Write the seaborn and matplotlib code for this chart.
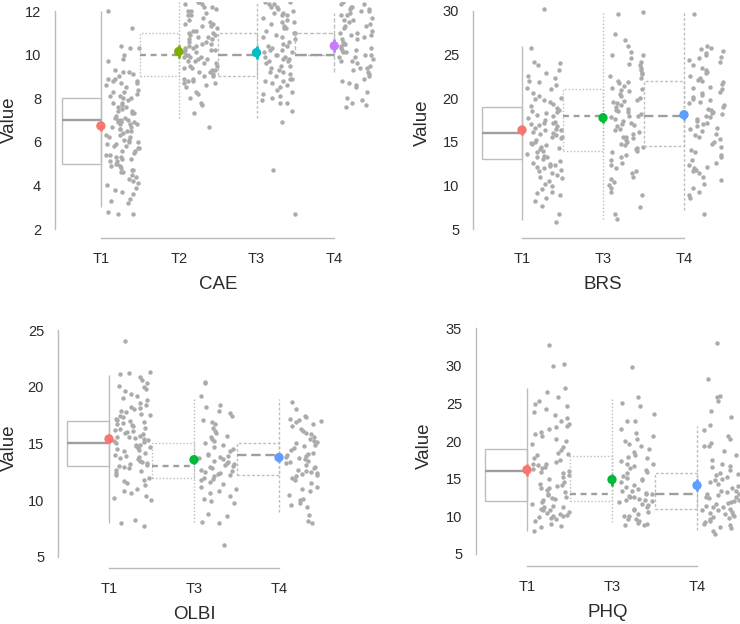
import matplotlib.pyplot as plt
import numpy as np
import pandas as pd
import seaborn as sns
from matplotlib.patches import Rectangle
from matplotlib.transforms import Affine2D

# ---- data ----
CAE_GROUPS = ["T1", "T2", "T3", "T4"]
CAE_T1 = [12.0, 11.2, 10.4, 10.3, 10.3, 10.0, 9.8, 9.7, 9.3, 9.2, 9.2, 9.1, 9.0, 8.9, 8.9, 8.8, 8.8, 8.7,
          8.7, 8.6, 8.5, 8.4, 8.3, 8.3, 8.2, 8.1, 8.0, 8.0, 7.9, 7.8, 7.8, 7.7, 7.6, 7.5, 7.4, 7.3, 7.3, 7.2,
          7.1, 7.1, 7.0, 7.0, 7.0, 6.9, 6.9, 6.8, 6.8, 6.8, 6.7, 6.7, 6.6, 6.6, 6.5, 6.4, 6.3, 6.3, 6.2, 6.2,
          6.1, 6.1, 6.0, 6.0, 5.9, 5.9, 5.8, 5.8, 5.7, 5.7, 5.6, 5.6, 5.5, 5.4, 5.3, 5.3, 5.2, 5.2, 5.1, 5.1,
          5.0, 5.0, 4.9, 4.9, 4.8, 4.7, 4.7, 4.6, 4.6, 4.5, 4.4, 4.3, 4.2, 4.1, 4.0, 3.9, 3.8, 3.7, 3.6, 3.4,
          3.3, 3.2, 2.8, 2.7, 2.7, 8.1, 7.6, 6.5, 6.9, 7.4, 5.4]
CAE_T2 = [12.4, 12.4, 12.3, 12.3, 12.2, 12.2, 12.1, 12.0, 12.0, 11.9, 11.8, 11.8, 11.7, 11.6, 11.5, 11.4,
          11.4, 11.3, 11.3, 11.2, 11.1, 11.0, 11.0, 10.9, 10.9, 10.8, 10.8, 10.7, 10.7, 10.6, 10.5, 10.5,
          10.4, 10.3, 10.3, 10.2, 10.2, 10.1, 10.1, 10.0, 10.0, 9.9, 9.9, 9.8, 9.8, 9.7, 9.7, 9.6, 9.6, 9.5,
          9.4, 9.4, 9.3, 9.3, 9.2, 9.2, 9.1, 9.0, 9.0, 8.9, 8.9, 8.8, 8.8, 8.7, 8.7, 8.6, 8.5, 8.3, 8.2, 8.0,
          7.8, 7.7, 7.3, 6.7, 10.6, 9.9, 10.4, 11.1, 9.5, 10.2]
CAE_T3 = [12.4, 12.4, 12.3, 12.3, 12.2, 12.2, 12.1, 12.0, 11.9, 11.9, 11.8, 11.8, 11.7, 11.6, 11.5, 11.5,
          11.4, 11.3, 11.2, 11.2, 11.1, 11.0, 11.0, 10.9, 10.8, 10.8, 10.7, 10.6, 10.5, 10.4, 10.4, 10.3,
          10.2, 10.2, 10.1, 10.1, 10.0, 10.0, 9.9, 9.9, 9.8, 9.8, 9.7, 9.7, 9.6, 9.5, 9.5, 9.4, 9.3, 9.2,
          9.2, 9.1, 9.0, 8.9, 8.9, 8.8, 8.8, 8.7, 8.6, 8.5, 8.4, 8.3, 8.2, 8.1, 8.0, 7.9, 7.8, 7.8, 7.4, 6.9,
          4.7, 2.7]
CAE_T4 = [12.4, 12.3, 12.3, 12.2, 12.2, 12.1, 12.1, 12.0, 12.0, 11.9, 11.8, 11.8, 11.7, 11.6, 11.6, 11.5,
          11.4, 11.3, 11.3, 11.2, 11.1, 11.0, 11.0, 10.9, 10.9, 10.8, 10.7, 10.7, 10.6, 10.5, 10.5, 10.4,
          10.3, 10.3, 10.2, 10.2, 10.1, 10.1, 10.0, 10.0, 9.9, 9.9, 9.8, 9.7, 9.7, 9.6, 9.5, 9.4, 9.4, 9.3,
          9.2, 9.1, 9.0, 8.9, 8.8, 8.7, 8.6, 8.5, 8.3, 8.0, 7.9, 7.8, 7.7, 7.6]
CAE_Q1 = [5, 9, 9, 10]
CAE_MED = [7, 10, 10, 10]
CAE_Q3 = [8, 11, 11, 11]
CAE_LO = [3, 7.1, 7.1, 9.2]
CAE_HI = [12, 12.4, 12.4, 11.9]
CAE_MEAN = [6.73, 10.14, 10.09, 10.4]
CAE_CI = [0.22, 0.3, 0.3, 0.3]

THREE_GROUPS = ["T1", "T3", "T4"]
BRS_T1 = [30.2, 25.7, 24.2, 24.0, 23.8, 23.2, 22.9, 22.6, 22.3, 22.0, 21.5, 21.2, 21.0, 20.6, 20.3, 20.0,
          19.8, 19.6, 19.3, 19.1, 18.9, 18.7, 18.5, 18.3, 18.1, 17.9, 17.7, 17.5, 17.3, 17.1, 17.0, 16.8,
          16.6, 16.5, 16.3, 16.1, 16.0, 15.8, 15.6, 15.4, 15.2, 15.0, 14.8, 14.6, 14.4, 14.2, 14.0, 13.8,
          13.6, 13.4, 13.2, 13.0, 12.8, 12.6, 12.4, 12.2, 12.1, 12.0, 11.8, 11.6, 11.4, 11.2, 11.0, 10.8,
          10.5, 10.2, 9.9, 9.6, 9.3, 9.1, 8.9, 8.6, 8.2, 7.6, 6.7, 5.8, 17.2, 16.9, 15.9, 15.5, 14.9, 14.3,
          18.4, 19.9, 21.8, 13.3, 12.3, 16.4]
BRS_T3 = [29.9, 29.6, 27.4, 26.7, 26.0, 25.3, 25.0, 24.6, 24.1, 23.8, 23.5, 23.2, 22.9, 22.6, 22.3, 22.0,
          21.7, 21.4, 21.1, 20.8, 20.5, 20.3, 20.0, 19.8, 19.6, 19.4, 19.2, 19.0, 18.8, 18.6, 18.4, 18.2,
          18.0, 17.8, 17.6, 17.4, 17.2, 17.0, 16.8, 16.5, 16.3, 16.1, 15.9, 15.6, 15.4, 15.2, 15.0, 14.8,
          14.6, 14.4, 14.2, 14.0, 13.8, 13.5, 13.2, 12.9, 12.6, 12.3, 12.0, 11.7, 11.4, 11.0, 10.7, 10.4,
          10.0, 9.7, 9.3, 8.9, 7.5, 6.7, 6.2, 22.8, 21.9, 20.9, 19.7, 18.5, 17.9, 16.9, 15.5, 14.3, 21.2,
          23.9, 24.9]
BRS_T4 = [29.7, 26.0, 25.8, 25.6, 25.4, 25.2, 25.0, 24.7, 24.4, 24.1, 23.8, 23.5, 23.2, 22.9, 22.6, 22.3,
          22.0, 21.8, 21.6, 21.3, 21.0, 20.7, 20.4, 20.1, 19.8, 19.6, 19.4, 19.2, 19.0, 18.8, 18.6, 18.4,
          18.2, 18.0, 17.8, 17.6, 17.4, 17.1, 16.8, 16.5, 16.2, 15.9, 15.6, 15.3, 15.0, 14.7, 14.4, 14.1,
          13.8, 13.5, 13.2, 12.9, 12.6, 12.3, 12.0, 11.7, 11.4, 11.0, 10.6, 10.2, 9.7, 9.3, 8.9, 8.6, 6.7,
          23.0, 22.1, 20.6, 19.9, 18.3, 17.0, 15.8, 12.1, 11.8, 24.6, 21.2, 16.6]
BRS_Q1 = [13, 14, 14.5]
BRS_MED = [16, 18, 18]
BRS_Q3 = [19, 21, 22]
BRS_LO = [6, 6.2, 7.2]
BRS_HI = [26, 30, 30]
BRS_MEAN = [16.35, 17.75, 18.1]
BRS_CI = [0.6, 0.6, 0.6]

OLBI_T1 = [24.0, 21.3, 21.2, 21.1, 20.9, 20.6, 20.3, 20.1, 20.0, 19.8, 19.6, 19.4, 19.2, 19.0, 18.8, 18.6,
           18.4, 18.2, 18.0, 17.9, 17.8, 17.6, 17.5, 17.4, 17.2, 17.1, 17.0, 16.9, 16.8, 16.6, 16.5, 16.4,
           16.3, 16.2, 16.1, 16.0, 15.9, 15.8, 15.7, 15.6, 15.5, 15.4, 15.3, 15.2, 15.1, 15.0, 14.9, 14.8,
           14.7, 14.6, 14.5, 14.4, 14.3, 14.2, 14.0, 13.9, 13.8, 13.7, 13.6, 13.5, 13.4, 13.3, 13.2, 13.0,
           12.9, 12.8, 12.7, 12.6, 12.4, 12.2, 12.0, 11.8, 11.7, 11.5, 11.3, 11.0, 10.8, 10.6, 10.4, 10.2,
           10.0, 8.3, 8.0, 7.7, 16.7, 15.6, 14.9, 17.3, 13.1, 18.1]
OLBI_T3 = [20.4, 20.3, 19.2, 18.4, 18.2, 17.9, 17.7, 17.4, 17.1, 16.9, 16.7, 16.4, 16.1, 15.9, 15.7, 15.6,
           15.4, 15.2, 15.0, 14.9, 14.7, 14.5, 14.3, 14.1, 14.0, 13.9, 13.8, 13.7, 13.6, 13.5, 13.4, 13.3,
           13.2, 13.1, 13.0, 12.9, 12.8, 12.7, 12.6, 12.5, 12.4, 12.3, 12.2, 12.1, 12.0, 11.9, 11.8, 11.6,
           11.4, 11.2, 11.0, 10.8, 10.6, 10.4, 10.1, 9.9, 9.8, 8.8, 8.6, 8.1, 8.0, 6.1]
OLBI_T4 = [18.7, 18.0, 17.4, 17.3, 17.2, 17.1, 17.0, 16.9, 16.7, 16.5, 16.3, 16.1, 15.9, 15.8, 15.6, 15.4,
           15.2, 15.1, 15.0, 14.9, 14.8, 14.6, 14.4, 14.2, 14.1, 14.0, 13.9, 13.8, 13.7, 13.6, 13.5, 13.4,
           13.3, 13.1, 12.9, 12.8, 12.7, 12.6, 12.5, 12.4, 12.3, 12.2, 12.1, 12.0, 11.8, 11.5, 11.2, 11.0,
           10.8, 10.5, 10.1, 10.0, 9.8, 9.6, 9.4, 8.7, 8.2, 8.0]
OLBI_Q1 = [13, 12, 12.25]
OLBI_MED = [15, 13, 14]
OLBI_Q3 = [17, 15, 15]
OLBI_LO = [8, 8.1, 9]
OLBI_HI = [21, 18.9, 18.9]
OLBI_MEAN = [15.4, 13.57, 13.77]
OLBI_CI = [0.4, 0.4, 0.4]

PHQ_T1 = [32.8, 30.2, 29.9, 27.0, 26.5, 25.9, 25.3, 24.9, 24.6, 24.2, 23.8, 23.4, 23.0, 22.6, 22.3, 22.0,
          21.6, 21.2, 20.9, 20.6, 20.3, 20.0, 19.6, 19.2, 18.8, 18.4, 18.1, 17.8, 17.5, 17.2, 16.9, 16.6,
          16.3, 16.0, 15.8, 15.5, 15.2, 14.9, 14.6, 14.3, 14.0, 13.8, 13.5, 13.2, 12.9, 12.6, 12.3, 12.1,
          11.9, 11.7, 11.4, 11.2, 11.0, 10.8, 10.6, 10.4, 10.2, 10.0, 9.8, 9.6, 9.4, 9.0, 8.7, 8.6, 8.0,
          17.0, 16.8, 15.9, 14.1, 13.7, 12.4, 11.3, 10.9, 10.1, 10.3, 9.9, 12.8, 21.9, 18.3, 16.4]
PHQ_T3 = [29.8, 25.8, 25.0, 24.6, 23.6, 22.7, 22.6, 21.6, 21.0, 20.6, 20.3, 20.0, 19.6, 19.3, 18.9, 18.6,
          18.1, 17.7, 17.4, 17.0, 16.7, 16.4, 16.1, 15.8, 15.4, 15.1, 14.8, 14.5, 14.2, 13.9, 13.6, 13.3,
          13.1, 12.9, 12.7, 12.5, 12.3, 12.1, 11.9, 11.7, 11.5, 11.2, 10.9, 10.6, 10.3, 10.0, 9.7, 9.4, 9.1,
          9.0, 8.9, 8.8, 13.4, 13.0, 12.6, 12.2, 12.0, 11.0, 10.1, 9.6, 17.9, 16.9, 14.9, 15.9]
PHQ_T4 = [33.0, 28.3, 26.0, 25.9, 25.3, 24.0, 23.2, 22.1, 21.5, 20.7, 20.2, 19.8, 19.3, 18.7, 18.1, 17.5,
          17.0, 16.5, 16.1, 15.8, 15.5, 15.2, 14.9, 14.6, 14.3, 14.0, 13.7, 13.4, 13.2, 13.0, 12.8, 12.6,
          12.4, 12.2, 12.0, 11.8, 11.6, 11.4, 11.2, 11.0, 10.8, 10.6, 10.4, 10.2, 10.0, 9.8, 9.6, 9.4, 9.2,
          9.0, 8.8, 8.6, 8.4, 8.1, 7.6, 13.3, 12.9, 12.5, 11.9, 11.3, 10.9, 10.3, 9.9, 14.8, 15.6, 16.7,
          19.4]
PHQ_Q1 = [12, 12, 11]
PHQ_MED = [16, 13, 13]
PHQ_Q3 = [19, 18, 15.75]
PHQ_LO = [8, 9.2, 8.2]
PHQ_HI = [27, 25.8, 22]
PHQ_MEAN = [16.17, 14.88, 14.1]
PHQ_CI = [0.8, 0.8, 0.8]

PALETTE_4 = ["#F8766D", "#7CAE00", "#00BFC4", "#C77CFF"]
PALETTE_3 = ["#F8766D", "#00BA38", "#619CFF"]

# line styles by group position (box / whisker, median)
BOX_STYLES = ["-", (0, (1, 1.5)), (0, (2, 1.5)), (0, (3, 1.5))]
MED_STYLES = ["-", (0, (2.5, 2)), (0, (4, 2)), (0, (5, 1.5))]

W, H = 740, 624
BOX_COLOR = "#BDBDBD"
MED_COLOR = "#9E9E9E"
POINT_COLOR = "#ABABAB"
AXIS_COLOR = "#BBBBBB"
TEXT_COLOR = "#2B2B2B"


def draw_panel(fig, rect_px, label, groups, values, stats, palette, xlim, ylim, yticks, ylabel_px):
    left, right, top, bottom = rect_px
    ax = fig.add_axes([left / W, 1 - bottom / H, (right - left) / W, (bottom - top) / H])
    q1, med, q3, lo, hi, means, ci = stats

    df = pd.DataFrame({
        "time": np.repeat(groups, [len(v) for v in values]),
        "value": np.concatenate(values),
    })
    shift = Affine2D().translate(0.28, 0) + ax.transData
    sns.stripplot(data=df, x="time", y="value", order=groups, color=POINT_COLOR, jitter=0.22,
                  size=3.2, linewidth=0, ax=ax, transform=shift, zorder=2)

    for i in range(len(groups)):
        ax.add_patch(Rectangle((i - 0.5, q1[i]), 0.5, q3[i] - q1[i], fill=False, edgecolor=BOX_COLOR,
                               linewidth=1.0, linestyle=BOX_STYLES[i], zorder=3))
        ax.vlines(i, lo[i], hi[i], color=BOX_COLOR, linewidth=1.0, linestyle=BOX_STYLES[i], zorder=3)
        ax.hlines(med[i], i - 0.5, i, color=MED_COLOR, linewidth=1.7, linestyle=MED_STYLES[i], zorder=3)

    pos = np.arange(len(groups))
    ax.vlines(pos, np.array(means) - np.array(ci), np.array(means) + np.array(ci),
              colors=palette, linewidth=2.0, zorder=5)
    sns.scatterplot(x=pos, y=means, hue=groups, palette=dict(zip(groups, palette)), s=45,
                    linewidth=0, legend=False, ax=ax, zorder=6)

    ax.set_xlim(*xlim)
    ax.set_ylim(*ylim)
    ax.set_xticks(pos)
    ax.set_xticklabels(groups)
    ax.set_yticks(yticks)
    ax.set_yticklabels([str(t) for t in yticks])
    sns.despine(ax=ax)
    ax.spines["left"].set_bounds(yticks[0], yticks[-1])
    ax.spines["bottom"].set_bounds(0, len(groups) - 1)
    for s in ("left", "bottom"):
        ax.spines[s].set_color(AXIS_COLOR)
        ax.spines[s].set_linewidth(1.0)
    ax.tick_params(axis="both", colors=AXIS_COLOR, labelcolor=TEXT_COLOR, labelsize=10.5,
                   length=6, width=1.0, pad=4)
    ax.set_xlabel(label, fontsize=13.5, color=TEXT_COLOR, labelpad=7)
    ax.set_ylabel("Value", fontsize=13.5, color=TEXT_COLOR)
    # label anchor is the text's right edge (bottom of rotated text)
    ax.yaxis.set_label_coords(-ylabel_px / (right - left), 0.5)
    ax.grid(False)
    return ax


sns.set_style("white")
plt.rcParams["font.family"] = ["Liberation Sans", "DejaVu Sans"]
np.random.seed(7)

fig = plt.figure(figsize=(W / 100, H / 100), dpi=100)

draw_panel(fig, (55, 381, 2.3, 238), "CAE", CAE_GROUPS, [CAE_T1, CAE_T2, CAE_T3, CAE_T4],
           (CAE_Q1, CAE_MED, CAE_Q3, CAE_LO, CAE_HI, CAE_MEAN, CAE_CI), PALETTE_4,
           (-0.59, 3.6), (1.59, 12.4), [2, 4, 6, 8, 10, 12], 37)
draw_panel(fig, (473, 732.6, 6.6, 238), "BRS", THREE_GROUPS, [BRS_T1, BRS_T3, BRS_T4],
           (BRS_Q1, BRS_MED, BRS_Q3, BRS_LO, BRS_HI, BRS_MEAN, BRS_CI), PALETTE_3,
           (-0.605, 2.6), (3.97, 30.5), [5, 10, 15, 20, 25, 30], 42)
draw_panel(fig, (58, 330, 326.6, 568), "OLBI", THREE_GROUPS, [OLBI_T1, OLBI_T3, OLBI_T4],
           (OLBI_Q1, OLBI_MED, OLBI_Q3, OLBI_LO, OLBI_HI, OLBI_MEAN, OLBI_CI), PALETTE_3,
           (-0.6, 2.6), (4.03, 25.3), [5, 10, 15, 20, 25], 40)
draw_panel(fig, (476, 739.5, 325.8, 566), "PHQ", THREE_GROUPS, [PHQ_T1, PHQ_T3, PHQ_T4],
           (PHQ_Q1, PHQ_MED, PHQ_Q3, PHQ_LO, PHQ_HI, PHQ_MEAN, PHQ_CI), PALETTE_3,
           (-0.6, 2.5), (3.4, 35.3), [5, 10, 15, 20, 25, 30, 35], 43)

fig.savefig("out.png", dpi=100)
